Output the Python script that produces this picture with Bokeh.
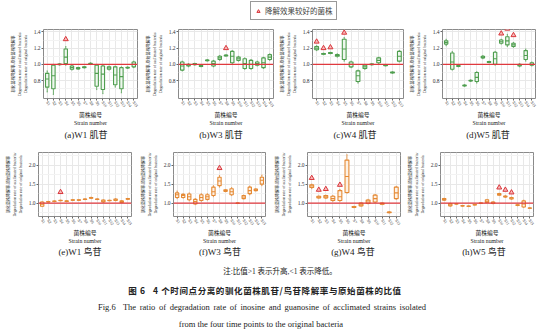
from bokeh.plotting import figure
from bokeh.layouts import column, row
from bokeh.models import (Range1d, FixedTicker, Span, Legend, LegendItem, Div,
                          ColumnDataSource, PrintfTickFormatter)
from bokeh.embed import file_html
from bokeh.resources import INLINE

# ---------------- data ----------------
strains_15 = ["S1", "S2", "S3", "S4", "S5", "S6", "S7", "S8", "S9", "S10",
              "S11", "S12", "S13", "S14", "S15"]
strains_13 = ["S1", "S2", "S3", "S4", "S5", "S6", "S7", "S8", "S9", "S10",
              "S11", "S12", "S13"]

# each entry: (lower whisker, Q1, median, Q3, upper whisker)
w1_inosine = [(0.66, 0.72, 0.82, 0.89, 0.92), (0.63, 0.70, 0.86, 0.99, 1.00),
              (0.99, 0.995, 1.00, 1.005, 1.01), (0.99, 1.01, 1.09, 1.19, 1.22),
              (0.93, 0.94, 0.96, 0.98, 0.99), (0.94, 0.945, 0.95, 0.96, 0.965),
              (0.955, 0.96, 0.965, 0.97, 0.975), (1.00, 1.005, 1.01, 1.015, 1.02),
              (0.69, 0.73, 0.89, 0.99, 1.00), (0.64, 0.69, 0.88, 0.98, 0.99),
              (0.93, 0.94, 0.955, 0.97, 0.98), (0.72, 0.75, 0.87, 0.97, 0.98),
              (0.65, 0.70, 0.85, 0.96, 0.97), (0.95, 0.955, 0.96, 0.965, 0.97),
              (0.96, 0.97, 1.00, 1.03, 1.04)]
w1_inosine_best = [(4, 1.31)]

w3_inosine = [(0.92, 0.93, 0.98, 1.03, 1.04), (0.97, 0.98, 0.99, 1.00, 1.01),
              (0.99, 0.995, 1.00, 1.01, 1.015), (0.97, 0.975, 0.98, 0.985, 0.99),
              (1.04, 1.045, 1.05, 1.055, 1.06), (0.97, 0.98, 1.01, 1.04, 1.05),
              (1.05, 1.06, 1.08, 1.10, 1.11), (1.10, 1.105, 1.11, 1.115, 1.12),
              (1.00, 1.02, 1.10, 1.16, 1.17), (1.04, 1.05, 1.07, 1.09, 1.10),
              (0.94, 0.95, 1.01, 1.07, 1.08), (0.94, 0.95, 1.00, 1.05, 1.06),
              (0.98, 0.99, 1.01, 1.03, 1.04), (0.95, 0.96, 1.02, 1.08, 1.09),
              (1.05, 1.06, 1.09, 1.12, 1.13)]
w3_inosine_best = [(8, 1.20)]

w4_inosine = [(1.17, 1.18, 1.20, 1.22, 1.23), (1.12, 1.125, 1.13, 1.135, 1.14),
              (1.13, 1.135, 1.14, 1.145, 1.15), (1.09, 1.10, 1.11, 1.12, 1.13),
              (1.04, 1.06, 1.19, 1.31, 1.33), (0.96, 0.97, 1.00, 1.03, 1.04),
              (0.77, 0.79, 0.86, 0.92, 0.93), (0.94, 0.95, 0.97, 0.99, 1.00),
              (0.99, 0.995, 1.00, 1.005, 1.01), (1.01, 1.02, 1.05, 1.08, 1.09),
              (0.98, 0.985, 0.99, 0.995, 1.00), (0.89, 0.895, 0.90, 0.905, 0.91),
              (1.03, 1.04, 1.10, 1.16, 1.17)]
w4_inosine_best = [(1, 1.28), (2, 1.20), (3, 1.21), (5, 1.39)]

w5_inosine = [(1.23, 1.25, 1.27, 1.29, 1.31), (0.93, 0.94, 1.03, 1.14, 1.16),
              (0.97, 0.975, 0.98, 0.985, 0.99), (0.73, 0.735, 0.74, 0.745, 0.75),
              (0.79, 0.795, 0.80, 0.805, 0.81), (0.77, 0.79, 0.84, 0.90, 0.91),
              (1.07, 1.08, 1.09, 1.10, 1.11), (1.02, 1.025, 1.03, 1.035, 1.04),
              (0.99, 1.00, 1.07, 1.15, 1.16), (1.25, 1.26, 1.28, 1.30, 1.31),
              (1.22, 1.24, 1.29, 1.34, 1.37), (1.21, 1.22, 1.24, 1.26, 1.27),
              (0.97, 0.98, 0.99, 1.00, 1.01), (1.04, 1.06, 1.11, 1.17, 1.19),
              (0.98, 0.99, 1.00, 1.02, 1.03)]
w5_inosine_best = [(10, 1.38), (11, 1.44), (12, 1.36)]

w1_guanosine = [(0.91, 0.92, 0.97, 1.03, 1.04), (1.03, 1.035, 1.04, 1.045, 1.05),
                (1.04, 1.045, 1.05, 1.055, 1.06), (1.06, 1.065, 1.07, 1.075, 1.08),
                (1.04, 1.045, 1.05, 1.06, 1.065), (1.07, 1.075, 1.08, 1.09, 1.095),
                (1.07, 1.075, 1.08, 1.09, 1.095), (1.09, 1.095, 1.10, 1.11, 1.115),
                (1.12, 1.13, 1.14, 1.15, 1.16), (1.09, 1.095, 1.10, 1.11, 1.115),
                (1.02, 1.03, 1.05, 1.08, 1.09), (1.06, 1.065, 1.07, 1.075, 1.08),
                (1.06, 1.07, 1.09, 1.11, 1.12), (1.01, 1.02, 1.04, 1.06, 1.07),
                (1.10, 1.105, 1.11, 1.12, 1.125)]
w1_guanosine_best = [(4, 1.29)]

w3_guanosine = [(1.12, 1.15, 1.22, 1.27, 1.32), (1.13, 1.15, 1.20, 1.23, 1.25),
                (1.06, 1.09, 1.17, 1.24, 1.27), (0.96, 0.98, 1.04, 1.10, 1.12),
                (1.05, 1.07, 1.15, 1.22, 1.25), (1.08, 1.10, 1.17, 1.22, 1.25),
                (1.17, 1.20, 1.30, 1.42, 1.46), (1.42, 1.46, 1.58, 1.68, 1.73),
                (1.30, 1.31, 1.33, 1.35, 1.36), (1.20, 1.22, 1.30, 1.38, 1.41),
                (0.99, 0.995, 1.00, 1.005, 1.01), (1.11, 1.12, 1.16, 1.20, 1.21),
                (1.22, 1.25, 1.33, 1.42, 1.45), (1.32, 1.33, 1.35, 1.37, 1.38),
                (1.46, 1.50, 1.60, 1.68, 1.74)]
w3_guanosine_best = [(8, 1.92)]

w4_guanosine = [(1.38, 1.41, 1.45, 1.48, 1.50), (1.13, 1.14, 1.16, 1.18, 1.19),
                (1.12, 1.14, 1.17, 1.20, 1.21), (1.05, 1.07, 1.12, 1.18, 1.20),
                (1.05, 1.07, 1.17, 1.33, 1.36), (1.26, 1.28, 1.70, 2.13, 2.27),
                (0.88, 0.89, 0.90, 0.91, 0.92), (0.92, 0.93, 0.96, 1.00, 1.01),
                (0.98, 0.99, 1.03, 1.08, 1.10), (1.01, 1.03, 1.12, 1.21, 1.23),
                (0.96, 0.97, 0.98, 1.00, 1.01), (0.74, 0.75, 0.76, 0.77, 0.78),
                (1.10, 1.12, 1.27, 1.42, 1.44)]
w4_guanosine_best = [(1, 1.66), (2, 1.35), (3, 1.37), (5, 1.48)]

w5_guanosine = [(1.07, 1.08, 1.10, 1.12, 1.13), (0.92, 0.93, 0.96, 0.99, 1.00),
                (0.975, 0.978, 0.98, 0.983, 0.985), (0.92, 0.925, 0.93, 0.935, 0.94),
                (0.91, 0.915, 0.92, 0.925, 0.93), (0.95, 0.955, 0.96, 0.965, 0.97),
                (0.995, 0.998, 1.00, 1.003, 1.005), (1.01, 1.02, 1.05, 1.09, 1.10),
                (0.98, 0.99, 1.01, 1.03, 1.04), (1.20, 1.21, 1.23, 1.25, 1.26),
                (1.15, 1.16, 1.17, 1.19, 1.20), (1.10, 1.11, 1.13, 1.15, 1.16),
                (0.93, 0.94, 0.95, 0.96, 0.97), (0.89, 0.90, 0.98, 1.06, 1.08),
                (0.86, 0.865, 0.87, 0.875, 0.88)]
w5_guanosine_best = [(10, 1.41), (11, 1.35), (12, 1.28)]

row1_ticks = [0.8, 1.0, 1.2, 1.4]
row1_minor = [0.7, 0.9, 1.1, 1.3]
row2_ticks = [1.0, 1.5, 2.0]
row2_minor = [0.75, 1.25, 1.75, 2.25]

captions_row1 = ["(a)W1 肌苷", "(b)W3 肌苷", "(c)W4 肌苷", "(d)W5 肌苷"]
captions_row2 = ["(e)W1 鸟苷", "(f)W3 鸟苷", "(g)W4 鸟苷", "(h)W5 鸟苷"]

# ---------------- styling ----------------
SERIF = "Liberation Serif, Noto Sans CJK SC"
GREEN, GREEN_FILL = "#4f9e4f", "#eef7ee"
ORANGE, ORANGE_FILL = "#e58a35", "#fdf1e4"
RED = "#e0393e"
YLABEL = ("驯化菌株降解率/原始菌株降解率\n"
          "Degradation rate of acclimated bacteria/\n"
          "Degradation rate of original bacteria")


def panel(boxes, best, strains, color, fill, yr, yticks, yminor,
          width, left, right, height, top, bottom):
    n = len(strains)
    xs = list(range(1, n + 1))
    p = figure(width=width, height=height, x_range=Range1d(0.4, n + 0.6),
               y_range=Range1d(*yr), output_backend="svg", toolbar_location=None,
               min_border_left=left, min_border_right=right,
               min_border_top=top, min_border_bottom=bottom)
    src = ColumnDataSource(dict(
        x=xs,
        lo=[b[0] for b in boxes], q1=[b[1] for b in boxes],
        med=[b[2] for b in boxes], q3=[b[3] for b in boxes],
        hi=[b[4] for b in boxes],
        xl=[x - 0.275 for x in xs], xr=[x + 0.275 for x in xs],
        cl=[x - 0.1 for x in xs], cr=[x + 0.1 for x in xs]))
    p.segment("x", "lo", "x", "q1", source=src, line_color=color, line_width=0.8)
    p.segment("x", "q3", "x", "hi", source=src, line_color=color, line_width=0.8)
    p.segment("cl", "lo", "cr", "lo", source=src, line_color=color, line_width=0.6)
    p.segment("cl", "hi", "cr", "hi", source=src, line_color=color, line_width=0.6)
    p.vbar(x="x", bottom="q1", top="q3", width=0.55, source=src,
           fill_color=fill, line_color=color, line_width=1.1)
    p.segment("xl", "med", "xr", "med", source=src, line_color=color, line_width=1.1)
    p.add_layout(Span(location=1.0, dimension="width", line_color=RED,
                      line_width=1.4))
    p.scatter(x=[b[0] for b in best], y=[b[1] for b in best], marker="triangle",
              size=5, line_color="#d9363b", fill_color="#f6b9b9", line_width=1)

    p.xaxis.ticker = FixedTicker(ticks=xs)
    p.xaxis.major_label_overrides = {i + 1: s for i, s in enumerate(strains)}
    p.xaxis.major_label_orientation = -1.0
    p.xaxis.major_label_text_font_size = "4px"
    p.xaxis.axis_label = "菌株编号\nStrain number"
    p.xaxis.axis_label_text_font_size = "5.8px"
    p.xaxis.axis_label_standoff = 0
    p.yaxis.ticker = FixedTicker(ticks=yticks, minor_ticks=yminor)
    p.yaxis.formatter = PrintfTickFormatter(format="%.1f")
    p.yaxis.major_label_text_font_size = "5.5px"
    p.yaxis.axis_label = YLABEL
    p.yaxis.axis_label_text_font_size = "4px"
    p.yaxis.axis_label_standoff = 3
    for ax in (p.xaxis, p.yaxis):
        ax.axis_line_color = None
        ax.major_tick_in = 0
        ax.major_tick_out = 2
        ax.minor_tick_in = 0
        ax.minor_tick_out = 0
        ax.major_tick_line_color = "#666666"
        ax.major_label_standoff = 1
        ax.major_label_text_font = SERIF
        ax.major_label_text_color = "#333333"
        ax.axis_label_text_font = SERIF
        ax.axis_label_text_font_style = "normal"
        ax.axis_label_text_color = "#222222"
    p.xgrid.grid_line_color = "#e8e8e8"
    p.ygrid.grid_line_color = "#e8e8e8"
    p.ygrid.minor_grid_line_color = "#f3f3f3"
    p.outline_line_color = "#8a8a8a"
    return p


def caption_strip(texts, centers, height):
    parts = "".join(
        f'<div style="position:absolute;left:{c - 50}px;width:100px;top:0;'
        f'text-align:center;font-size:9px;line-height:{height}px;">{t}</div>'
        for t, c in zip(texts, centers))
    html = (f'<div style="position:relative;width:554px;height:{height}px;color:#222;'
            f"font-family:'Liberation Serif','Noto Sans CJK SC',serif;\">{parts}</div>")
    return Div(text=html, width=554, height=height, margin=0)


R1 = dict(yr=(0.58, 1.43), yticks=row1_ticks, yminor=row1_minor,
          height=104, top=5, bottom=28)
R2 = dict(yr=(0.65, 2.33), yticks=row2_ticks, yminor=row2_minor,
          height=104, top=10, bottom=24)

pa = panel(w1_inosine, w1_inosine_best, strains_15, GREEN, GREEN_FILL,
           width=140, left=43, right=3, **R1)
pb = panel(w3_inosine, w3_inosine_best, strains_15, GREEN, GREEN_FILL,
           width=136, left=38, right=3, **R1)
pc = panel(w4_inosine, w4_inosine_best, strains_13, GREEN, GREEN_FILL,
           width=130, left=33, right=3, **R1)
pd = panel(w5_inosine, w5_inosine_best, strains_15, GREEN, GREEN_FILL,
           width=148, left=33, right=19, **R1)
pe = panel(w1_guanosine, w1_guanosine_best, strains_15, ORANGE, ORANGE_FILL,
           width=135, left=38, right=4, **R2)
pf = panel(w3_guanosine, w3_guanosine_best, strains_15, ORANGE, ORANGE_FILL,
           width=134, left=38, right=4, **R2)
pg = panel(w4_guanosine, w4_guanosine_best, strains_13, ORANGE, ORANGE_FILL,
           width=135, left=38, right=4, **R2)
ph = panel(w5_guanosine, w5_guanosine_best, strains_15, ORANGE, ORANGE_FILL,
           width=150, left=34, right=21, **R2)

cap1 = caption_strip(captions_row1, [86, 221, 355, 488], 14)
cap2 = caption_strip(captions_row2, [80, 220, 353, 484], 12)

# legend strip
lg = figure(width=554, height=24, x_range=Range1d(0, 1), y_range=Range1d(0, 1),
            output_backend="svg", toolbar_location=None, min_border=0,
            x_axis_type=None, y_axis_type=None)
lg.outline_line_color = None
tri = lg.scatter(x=[-5], y=[-5], marker="triangle", size=5, line_color="#d9363b",
                 fill_color="#f6b9b9", line_width=1)
legend = Legend(items=[LegendItem(label="降解效果较好的菌株", renderers=[tri])],
                location=(250, 4), border_line_color="#333333", border_line_width=1,
                padding=3, spacing=0, margin=0, glyph_width=8, glyph_height=8,
                label_standoff=3, label_height=8, label_text_font=SERIF,
                label_text_font_size="7.5px", background_fill_alpha=1)
lg.add_layout(legend)

footer_html = """
<div style="position:relative;width:554px;height:75px;color:#222;font-family:'Liberation Serif','Noto Sans CJK SC',serif;">
  <div style="position:absolute;left:3px;width:554px;top:8px;text-align:center;font-size:7.5px;line-height:12px;">注:比值&gt;1 表示升高,&lt;1 表示降低。</div>
  <div style="position:absolute;left:-12px;width:554px;top:26px;text-align:center;font-size:8.5px;line-height:12px;font-weight:bold;font-family:'Noto Sans CJK SC',sans-serif;letter-spacing:0.6px;">图 6&nbsp;&nbsp;&nbsp;4 个时间点分离的驯化菌株肌苷/鸟苷降解率与原始菌株的比值</div>
  <div style="position:absolute;left:-15px;width:554px;top:43px;text-align:center;font-size:8.5px;line-height:12px;word-spacing:1.5px;">Fig.6&nbsp;&nbsp;The ratio of degradation rate of inosine and guanosine of acclimated strains isolated</div>
  <div style="position:absolute;left:-16px;width:554px;top:60px;text-align:center;font-size:8.5px;line-height:12px;">from the four time points to the original bacteria</div>
</div>
"""
footer = Div(text=footer_html, width=554, height=75, margin=0)

layout = column(lg, row(pa, pb, pc, pd), cap1, row(pe, pf, pg, ph), cap2, footer)

open("out.html", "w").write(file_html(layout, INLINE))
